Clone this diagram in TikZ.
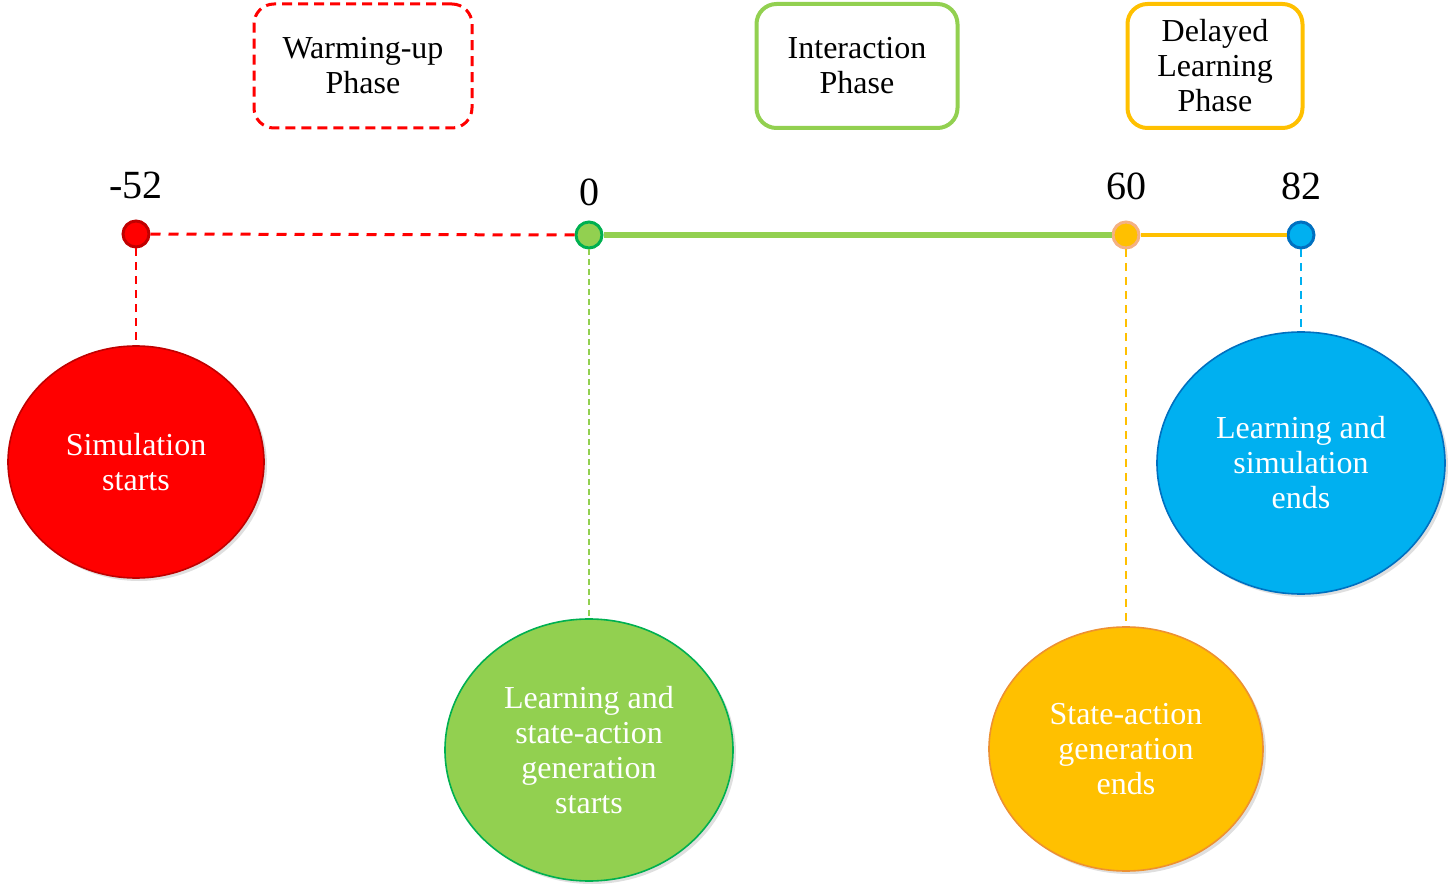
\documentclass[tikz,border=0pt]{standalone}
\usepackage{fontspec}
\setmainfont{Liberation Serif}
\usetikzlibrary{shapes.geometric,shadows}

\definecolor{simred}{RGB}{255,0,0}
\definecolor{simredline}{RGB}{192,0,0}
\definecolor{lgreen}{RGB}{146,208,80}
\definecolor{dgreen}{RGB}{0,176,80}
\definecolor{gold}{RGB}{255,192,0}
\definecolor{peach}{RGB}{244,177,131}
\definecolor{goldline}{RGB}{237,145,49}
\definecolor{sky}{RGB}{0,176,240}
\definecolor{navy}{RGB}{0,112,192}

\tikzset{
  dot/.style={circle,minimum size=13pt,inner sep=0pt,line width=1.5pt},
  phase/.style={rounded corners=10pt,minimum height=62pt,align=center,
    font=\fontsize{16}{17.5}\selectfont},
  event/.style={ellipse,inner sep=0pt,align=center,text=white,line width=0.8pt,
    font=\fontsize{16}{17.5}\selectfont,
    drop shadow={opacity=0.25,shadow xshift=1.5pt,shadow yshift=-1.5pt}},
  tick/.style={font=\fontsize{20}{22}\selectfont}
}

\begin{document}
\begin{tikzpicture}[x=0.5pt,y=-0.5pt]
  \useasboundingbox (0,0) rectangle (1453,893);

  % phases
  \node[phase,draw=simred,dash pattern=on 5pt off 3pt,line width=1.5pt,minimum width=109pt] (warm) at (363,66) {Warming-up\\Phase};
  \node[phase,draw=lgreen,line width=2pt,minimum width=100.5pt] (inter) at (857,66) {Interaction\\Phase};
  \node[phase,draw=gold,line width=2pt,minimum width=87.5pt] (delay) at (1215,66) {Delayed\\Learning\\Phase};

  % time line
  \node[dot,fill=simred,draw=simredline] (tA) at (136,234) {};
  \node[dot,fill=lgreen,draw=dgreen] (tB) at (589,235) {};
  \node[dot,fill=gold,draw=peach] (tC) at (1126,235) {};
  \node[dot,fill=sky,draw=navy] (tD) at (1301,235) {};
  \draw[simred,line width=1.5pt,dash pattern=on 5pt off 4pt] (tA) -- (tB);
  \draw[lgreen,line width=3pt] (tB) -- (tC);
  \draw[gold,line width=2pt] (tC) -- (tD);

  \node[tick] at (136,185) {-52};
  \node[tick] at (589,192) {0};
  \node[tick] at (1126,186) {60};
  \node[tick] at (1301,186) {82};

  % events
  \node[event,fill=simred,draw=simredline,minimum width=128pt,minimum height=116pt] (eA) at (136,462) {Simulation\\starts};
  \node[event,fill=lgreen,draw=dgreen,minimum width=144pt,minimum height=131pt] (eB) at (589,750) {Learning and\\state-action\\generation\\starts};
  \node[event,fill=gold,draw=goldline,minimum width=137pt,minimum height=122pt] (eC) at (1126,749) {State-action\\generation\\ends};
  \node[event,fill=sky,draw=navy,minimum width=144pt,minimum height=131pt] (eD) at (1301,463) {Learning and\\simulation\\ends};

  \draw[simred,line width=1pt,dash pattern=on 4pt off 3pt] (tA) -- (eA);
  \draw[lgreen,line width=0.6pt,dash pattern=on 3pt off 2pt] (tB) -- (eB);
  \draw[gold,line width=1pt,dash pattern=on 4pt off 3pt] (tC) -- (eC);
  \draw[sky,line width=0.8pt,dash pattern=on 4pt off 3pt] (tD) -- (eD);
\end{tikzpicture}
\end{document}
